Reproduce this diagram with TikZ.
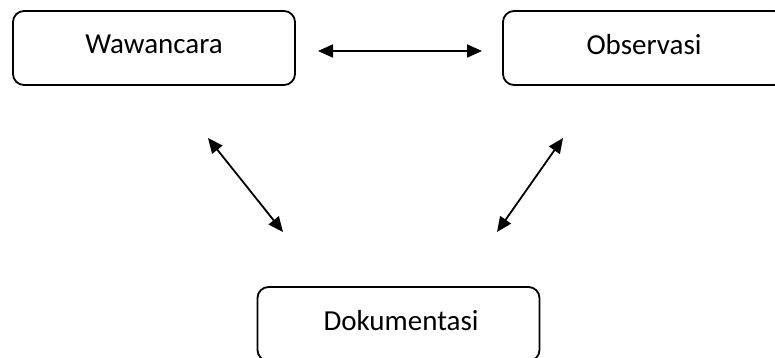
\documentclass[tikz,border=0pt]{standalone}
\usepackage{fontspec}
\setmainfont{Carlito}
\usetikzlibrary{arrows.meta}
\begin{document}
\begin{tikzpicture}[x=1pt,y=-1pt,
  box/.style={draw=black, line width=1.8pt, rounded corners=11pt, minimum width=282pt, minimum height=74pt, inner sep=0pt, text depth=7pt, font=\fontsize{29}{34}\selectfont, text=black},
  link/.style={line width=1.8pt, {Triangle[length=15pt,width=13pt]}-{Triangle[length=15pt,width=13pt]}}]
\useasboundingbox (0,0) rectangle (775,358);
\clip (0,0) rectangle (775,358);
\fill[white] (0,0) rectangle (775,358);
\node[box] (w) at (154,48) {Wawancara};
\node[box] (o) at (644,48) {Observasi};
\node[box] (d) at (398.5,324) {\hspace*{5pt}Dokumentasi};
\coordinate (h1) at (318,51);
\coordinate (h2) at (482,51);
\coordinate (l1) at (208,138);
\coordinate (l2) at (283,232);
\coordinate (r1) at (563,138);
\coordinate (r2) at (497,232);
\draw[link] (h1) -- (h2);
\draw[link] (l1) -- (l2);
\draw[link] (r1) -- (r2);
\end{tikzpicture}
\end{document}
